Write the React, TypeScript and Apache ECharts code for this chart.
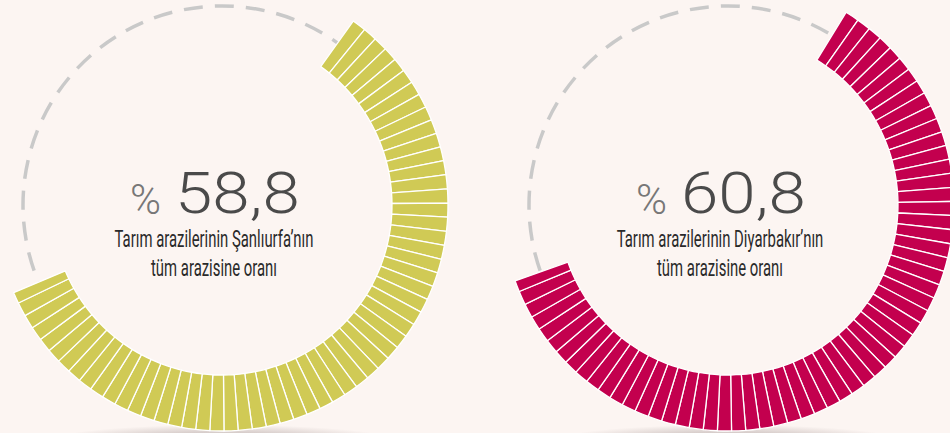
import React, { useEffect, useRef } from "react";
import * as echarts from "echarts";

// ---- data ----
const percentages: number[] = [58.8, 60.8];
const percentLabels: string[] = ["58,8", "60,8"];
const captionLine1: string[] = [
  "Tarım arazilerinin Şanlıurfa’nın",
  "Tarım arazilerinin Diyarbakır’nın",
];
const captionLine2: string[] = ["tüm arazisine oranı", "tüm arazisine oranı"];
const ringColors: string[] = ["#d0ca55", "#c3004e"];

// ---- layout (style only) ----
const centersX = [222, 728];
const centerY = 205;
const startAngles = [54.5, 58.5];
const BG = "#fcf5f2";

function buildSegments(v: number, color: string) {
  const n = Math.floor(v);
  const rem = +(v - n).toFixed(4);
  const items: any[] = [];
  for (let i = 0; i < n; i++) items.push({ value: 1, itemStyle: { color } });
  if (rem > 0) items.push({ value: rem, itemStyle: { color } });
  items.push({
    value: +(100 - v).toFixed(4),
    itemStyle: { color: "rgba(0,0,0,0)", borderWidth: 0 },
  });
  return items;
}

export default function App() {
  const ref = useRef<HTMLDivElement>(null);
  useEffect(() => {
    if (!ref.current) return;
    const chart = echarts.init(ref.current, undefined, { renderer: "svg" });
    const graphics: any[] = [];
    const series: any[] = [];
    percentages.forEach((v, i) => {
      const cx = centersX[i];
      const tx = cx - 8;
      // bottom soft shadow
      graphics.push({
        type: "circle",
        x: cx,
        y: 440,
        scaleY: 0.09,
        z: 0,
        silent: true,
        shape: { cx: 0, cy: 0, r: 170 },
        style: {
          fill: {
            type: "radial",
            x: 0.5,
            y: 0.5,
            r: 0.5,
            colorStops: [
              { offset: 0, color: "rgba(90,70,70,0.45)" },
              { offset: 1, color: "rgba(90,70,70,0)" },
            ],
          },
        },
      });
      // dashed track
      graphics.push({
        type: "circle",
        z: 1,
        silent: true,
        shape: { cx, cy: centerY, r: 199 },
        style: {
          fill: "none",
          stroke: "#c9c9c9",
          lineWidth: 3.5,
          lineDash: [19, 12],
        },
      });
      // big number
      graphics.push({
        type: "text",
        x: tx - 53,
        y: 199,
        z: 5,
        style: {
          text: "%",
          x: 0,
          y: 0,
          align: "right",
          verticalAlign: "middle",
          textAlign: "right",
          textVerticalAlign: "middle",
          fontFamily: "Roboto",
          fontWeight: 300,
          fontSize: 42,
          fill: "#777777",
        },
      });
      graphics.push({
        type: "text",
        x: tx - 39,
        y: 193,
        scaleX: 1.16,
        z: 5,
        style: {
          text: percentLabels[i],
          x: 0,
          y: 0,
          align: "left",
          verticalAlign: "middle",
          textAlign: "left",
          textVerticalAlign: "middle",
          fontFamily: "Roboto",
          fontWeight: 300,
          fontSize: 58,
          fill: "#4a4a4a",
        },
      });
      [captionLine1[i], captionLine2[i]].forEach((t, k) => {
        graphics.push({
          type: "text",
          x: tx,
          y: 239 + k * 29,
          scaleX: 0.62,
          z: 5,
          style: {
            text: t,
            x: 0,
            y: 0,
            align: "center",
            verticalAlign: "middle",
            textAlign: "center",
            textVerticalAlign: "middle",
            fontFamily: "Roboto",
            fontWeight: 400,
            fontSize: 24,
            fill: "#2a2a2a",
          },
        });
      });
      series.push({
        type: "pie",
        z: 3,
        silent: true,
        center: [cx, centerY],
        radius: [170, 226],
        startAngle: startAngles[i],
        clockwise: true,
        label: { show: false },
        labelLine: { show: false },
        emphasis: { disabled: true },
        itemStyle: { borderColor: "#ffffff", borderWidth: 1.3 },
        data: buildSegments(v, ringColors[i]),
      });
    });
    chart.setOption({
      animation: false,
      backgroundColor: BG,
      graphic: { elements: graphics },
      series,
    });
    return () => chart.dispose();
  }, []);
  return (
    <div
      ref={ref}
      style={{ position: "absolute", left: 0, top: 0, width: 950, height: 433 }}
    />
  );
}
